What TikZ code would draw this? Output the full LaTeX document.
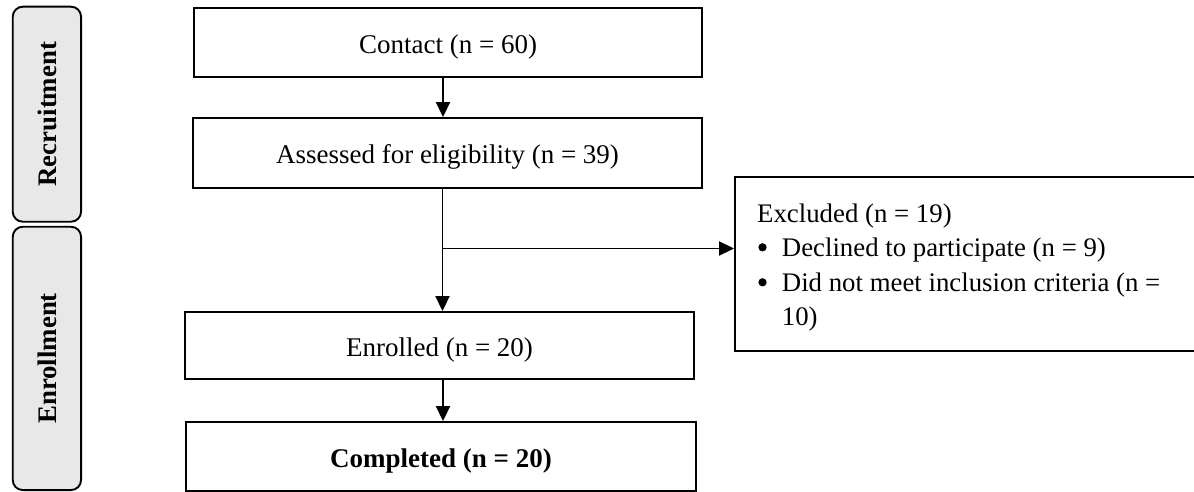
\documentclass[tikz,border=0pt]{standalone}
\usepackage{fontspec}
\setmainfont{Liberation Serif}
\usetikzlibrary{arrows.meta}
\definecolor{labelgray}{HTML}{E8E8E8}
\begin{document}
\begin{tikzpicture}[x=1pt,y=-1pt,
  flowbox/.style={draw=black,line width=1.9pt,inner sep=0pt,align=center,
    font=\fontsize{27}{32}\selectfont,text height=24pt,text depth=2pt},
  phase/.style={draw=black,line width=1.9pt,rounded corners=10pt,fill=labelgray,
    rotate=90,inner sep=0pt,minimum height=68.3pt,
    font=\fontsize{26.8}{32}\selectfont\bfseries},
  txt/.style={anchor=base west,inner sep=0pt,font=\fontsize{26.8}{32}\selectfont},
  dot/.style={circle,fill=black,inner sep=0pt,minimum size=8.3pt},
  link/.style={line width=1.9pt,draw=black},
  arr/.style={link,-{Triangle[length=15pt,width=14pt]}}]
\useasboundingbox (0,0) rectangle (1194,492);

% phase labels
\node[phase,minimum width=215pt] (recr) at (46.9,114.2) {Recruitment};
\node[phase,minimum width=263.3pt] (enro) at (46.9,358.4) {Enrollment};

% main boxes
\node[flowbox,minimum width=508pt,minimum height=69pt] (contact) at (448,42.5) {Contact (n = 60)};
\node[flowbox,minimum width=509pt,minimum height=70pt] (assessed) at (447.5,153) {Assessed for eligibility (n = 39)};
\node[flowbox,minimum width=509pt,minimum height=67pt] (enrolled) at (439.5,345.5) {Enrolled (n = 20)};
\node[flowbox,minimum width=510pt,minimum height=69pt] (completed) at (441,456.5) {\bfseries Completed (n = 20)};

% excluded box
\node[draw=black,line width=1.9pt,inner sep=0pt,minimum width=461pt,minimum height=174pt] (excluded) at (965.5,264) {};
\node[txt] (ex1) at (757,222.3) {Excluded (n = 19)};
\node[dot] (b1) at (762.5,247.3) {};
\node[txt] (ex2) at (781.7,256.7) {Declined to participate (n = 9)};
\node[dot] (b2) at (762.5,282.3) {};
\node[txt] (ex3) at (781.7,291.7) {Did not meet inclusion criteria (n =};
\node[txt] (ex4) at (781.7,325) {10)};

% connectors
\coordinate (colx) at (443,0);
\coordinate (br) at (442.5,248.5);
\draw[arr] (colx |- contact.south) -- (colx |- assessed.north);
\draw[arr] (br |- assessed.south) -- (br |- enrolled.north);
\draw[arr] (br) -- (excluded.west |- br);
\draw[arr] (colx |- enrolled.south) -- (colx |- completed.north);
\end{tikzpicture}
\end{document}
